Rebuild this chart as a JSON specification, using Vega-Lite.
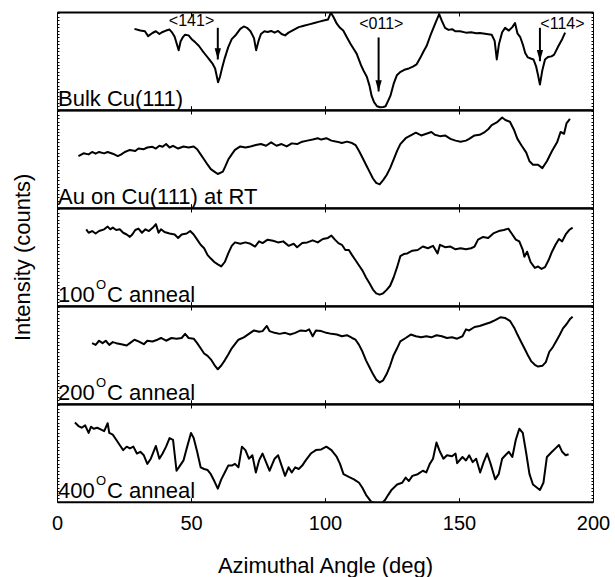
{
  "$schema": "https://vega.github.io/schema/vega-lite/v6.json",
  "autosize": {"type": "pad"},
  "padding": {"left": 11, "top": 11, "right": 0, "bottom": 0},
  "background": "white",
  "bounds": "flush",
  "spacing": 0,
  "config": {
    "view": {"stroke": null},
    "axis": {"domainColor": "black", "tickColor": "black", "labelColor": "black", "titleColor": "black", "labelFont": "Liberation Sans", "titleFont": "Liberation Sans", "titleFontWeight": "normal", "grid": false, "labelFlush": false},
    "text": {"font": "Liberation Sans", "color": "black"}
  },
  "datasets": {
    "bulk": [
      {"angle":28.9,"counts":235},{"angle":31.1,"counts":230},{"angle":32.8,"counts":228},{"angle":34.0,"counts":214},{"angle":35.6,"counts":223},{"angle":36.9,"counts":228},{"angle":38.2,"counts":220},{"angle":39.4,"counts":226},{"angle":40.7,"counts":230},{"angle":42.0,"counts":233},{"angle":43.0,"counts":224},{"angle":43.9,"counts":212},{"angle":45.4,"counts":173},{"angle":46.1,"counts":198},{"angle":46.9,"counts":210},{"angle":47.8,"counts":218},{"angle":49.1,"counts":216},{"angle":50.4,"counts":204},{"angle":51.7,"counts":195},{"angle":52.9,"counts":186},{"angle":54.2,"counts":172},{"angle":55.5,"counts":159},{"angle":56.8,"counts":146},{"angle":58.1,"counts":133},{"angle":59.0,"counts":120},{"angle":60.1,"counts":80},{"angle":60.8,"counts":95},{"angle":61.5,"counts":118},{"angle":62.6,"counts":150},{"angle":63.9,"counts":182},{"angle":65.2,"counts":205},{"angle":66.8,"counts":218},{"angle":68.4,"counts":235},{"angle":69.7,"counts":242},{"angle":70.9,"counts":238},{"angle":72.2,"counts":228},{"angle":73.5,"counts":208},{"angle":74.3,"counts":173},{"angle":75.2,"counts":200},{"angle":76.1,"counts":220},{"angle":77.4,"counts":228},{"angle":78.6,"counts":226},{"angle":79.9,"counts":229},{"angle":81.2,"counts":224},{"angle":82.5,"counts":229},{"angle":83.8,"counts":220},{"angle":85.1,"counts":216},{"angle":86.4,"counts":224},{"angle":88.3,"counts":232},{"angle":90.2,"counts":240},{"angle":92.1,"counts":244},{"angle":94.1,"counts":248},{"angle":96.0,"counts":252},{"angle":97.9,"counts":256},{"angle":99.9,"counts":260},{"angle":101.1,"counts":262},{"angle":102.2,"counts":282},{"angle":103.1,"counts":270},{"angle":104.4,"counts":250},{"angle":105.6,"counts":238},{"angle":106.8,"counts":230},{"angle":108.2,"counts":210},{"angle":109.5,"counts":192},{"angle":110.6,"counts":178},{"angle":111.8,"counts":163},{"angle":113.4,"counts":130},{"angle":114.6,"counts":110},{"angle":115.6,"counts":96},{"angle":116.6,"counts":70},{"angle":117.4,"counts":40},{"angle":118.3,"counts":22},{"angle":119.4,"counts":10},{"angle":120.6,"counts":7},{"angle":121.8,"counts":8},{"angle":122.6,"counts":10},{"angle":123.5,"counts":25},{"angle":124.4,"counts":40},{"angle":125.6,"counts":75},{"angle":126.8,"counts":100},{"angle":128.2,"counts":110},{"angle":129.6,"counts":116},{"angle":131.3,"counts":120},{"angle":132.8,"counts":125},{"angle":134.2,"counts":132},{"angle":135.5,"counts":150},{"angle":136.8,"counts":170},{"angle":137.9,"counts":185},{"angle":139.3,"counts":215},{"angle":141.0,"counts":248},{"angle":142.6,"counts":278},{"angle":143.6,"counts":258},{"angle":144.8,"counts":238},{"angle":146.1,"counts":232},{"angle":147.4,"counts":234},{"angle":148.7,"counts":228},{"angle":150.4,"counts":228},{"angle":152.6,"counts":224},{"angle":154.5,"counts":225},{"angle":156.4,"counts":222},{"angle":157.8,"counts":223},{"angle":160.3,"counts":220},{"angle":162.2,"counts":218},{"angle":163.3,"counts":200},{"angle":164.1,"counts":146},{"angle":164.9,"counts":190},{"angle":166.1,"counts":225},{"angle":167.2,"counts":238},{"angle":168.6,"counts":230},{"angle":169.9,"counts":240},{"angle":170.9,"counts":252},{"angle":171.8,"counts":222},{"angle":172.8,"counts":212},{"angle":173.8,"counts":190},{"angle":174.7,"counts":165},{"angle":175.7,"counts":152},{"angle":177.0,"counts":148},{"angle":177.8,"counts":146},{"angle":178.8,"counts":125},{"angle":179.5,"counts":100},{"angle":180.2,"counts":73},{"angle":181.1,"counts":115},{"angle":182.1,"counts":146},{"angle":183.2,"counts":153},{"angle":184.5,"counts":155},{"angle":185.5,"counts":160},{"angle":187.1,"counts":185},{"angle":188.5,"counts":205},{"angle":189.6,"counts":224}
    ],
    "rt": [
      {"angle":8.0,"counts":150},{"angle":9.9,"counts":158},{"angle":11.8,"counts":155},{"angle":13.1,"counts":162},{"angle":14.4,"counts":157},{"angle":15.7,"counts":162},{"angle":17.6,"counts":158},{"angle":18.9,"counts":162},{"angle":20.8,"counts":157},{"angle":22.7,"counts":150},{"angle":24.0,"counts":155},{"angle":25.3,"counts":162},{"angle":27.2,"counts":168},{"angle":29.2,"counts":165},{"angle":30.4,"counts":172},{"angle":32.4,"counts":170},{"angle":33.7,"counts":175},{"angle":35.6,"counts":177},{"angle":36.9,"counts":172},{"angle":38.2,"counts":180},{"angle":39.4,"counts":177},{"angle":40.7,"counts":185},{"angle":42.0,"counts":175},{"angle":43.3,"counts":180},{"angle":45.2,"counts":172},{"angle":47.2,"counts":178},{"angle":49.1,"counts":175},{"angle":51.0,"counts":178},{"angle":52.3,"counts":170},{"angle":53.6,"counts":155},{"angle":54.9,"counts":140},{"angle":56.2,"counts":125},{"angle":57.4,"counts":112},{"angle":58.7,"counts":105},{"angle":60.0,"counts":98},{"angle":61.9,"counts":105},{"angle":62.8,"counts":120},{"angle":63.9,"counts":140},{"angle":65.2,"counts":155},{"angle":66.4,"counts":168},{"angle":68.4,"counts":178},{"angle":70.3,"counts":175},{"angle":72.2,"counts":178},{"angle":74.2,"counts":182},{"angle":76.1,"counts":185},{"angle":78.0,"counts":180},{"angle":79.9,"counts":190},{"angle":81.9,"counts":180},{"angle":83.8,"counts":185},{"angle":85.7,"counts":178},{"angle":87.6,"counts":187},{"angle":89.6,"counts":185},{"angle":91.5,"counts":192},{"angle":93.4,"counts":195},{"angle":95.4,"counts":198},{"angle":97.3,"counts":202},{"angle":98.6,"counts":198},{"angle":100.5,"counts":202},{"angle":102.4,"counts":195},{"angle":104.4,"counts":192},{"angle":106.3,"counts":188},{"angle":108.2,"counts":192},{"angle":110.1,"counts":188},{"angle":111.4,"counts":182},{"angle":112.7,"counts":165},{"angle":114.0,"counts":145},{"angle":115.3,"counts":125},{"angle":116.6,"counts":105},{"angle":117.9,"counts":85},{"angle":119.1,"counts":72},{"angle":120.4,"counts":68},{"angle":121.7,"counts":80},{"angle":123.0,"counts":95},{"angle":124.3,"counts":115},{"angle":125.6,"counts":140},{"angle":126.9,"counts":165},{"angle":128.1,"counts":185},{"angle":130.1,"counts":202},{"angle":132.0,"counts":210},{"angle":133.9,"counts":218},{"angle":135.9,"counts":210},{"angle":137.8,"counts":215},{"angle":139.7,"counts":220},{"angle":141.0,"counts":212},{"angle":142.9,"counts":208},{"angle":144.8,"counts":210},{"angle":146.8,"counts":200},{"angle":148.7,"counts":195},{"angle":150.6,"counts":192},{"angle":152.6,"counts":195},{"angle":153.8,"counts":200},{"angle":155.8,"counts":210},{"angle":157.7,"counts":212},{"angle":159.6,"counts":220},{"angle":160.9,"counts":228},{"angle":162.2,"counts":240},{"angle":164.1,"counts":248},{"angle":166.1,"counts":262},{"angle":167.3,"counts":255},{"angle":169.0,"counts":250},{"angle":170.6,"counts":225},{"angle":171.8,"counts":200},{"angle":173.4,"counts":180},{"angle":175.1,"counts":160},{"angle":176.3,"counts":135},{"angle":177.6,"counts":125},{"angle":179.5,"counts":125},{"angle":181.1,"counts":115},{"angle":182.8,"counts":135},{"angle":184.7,"counts":165},{"angle":186.6,"counts":190},{"angle":187.9,"counts":220},{"angle":189.2,"counts":215},{"angle":190.1,"counts":245},{"angle":191.4,"counts":258}
    ],
    "a100": [
      {"angle":10.9,"counts":222},{"angle":11.8,"counts":212},{"angle":13.1,"counts":217},{"angle":14.4,"counts":210},{"angle":15.7,"counts":217},{"angle":17.6,"counts":222},{"angle":18.9,"counts":230},{"angle":19.9,"counts":222},{"angle":20.8,"counts":227},{"angle":22.1,"counts":220},{"angle":23.4,"counts":222},{"angle":24.7,"counts":212},{"angle":26.0,"counts":207},{"angle":27.2,"counts":200},{"angle":28.1,"counts":207},{"angle":29.2,"counts":220},{"angle":30.4,"counts":224},{"angle":31.7,"counts":212},{"angle":33.0,"counts":222},{"angle":34.3,"counts":217},{"angle":35.8,"counts":227},{"angle":36.9,"counts":237},{"angle":37.9,"counts":212},{"angle":38.8,"counts":222},{"angle":40.1,"counts":214},{"angle":42.0,"counts":210},{"angle":43.9,"counts":207},{"angle":45.2,"counts":197},{"angle":46.5,"counts":207},{"angle":48.4,"counts":210},{"angle":49.7,"counts":217},{"angle":51.0,"counts":207},{"angle":52.3,"counts":192},{"angle":53.6,"counts":177},{"angle":54.9,"counts":167},{"angle":56.2,"counts":147},{"angle":57.4,"counts":137},{"angle":58.7,"counts":127},{"angle":60.0,"counts":120},{"angle":61.3,"counts":114},{"angle":62.6,"counts":127},{"angle":63.9,"counts":152},{"angle":65.2,"counts":174},{"angle":66.4,"counts":184},{"angle":68.4,"counts":180},{"angle":70.3,"counts":184},{"angle":72.2,"counts":180},{"angle":73.9,"counts":172},{"angle":75.4,"counts":187},{"angle":76.7,"counts":182},{"angle":78.6,"counts":192},{"angle":80.6,"counts":189},{"angle":82.5,"counts":184},{"angle":84.4,"counts":187},{"angle":86.4,"counts":174},{"angle":88.3,"counts":180},{"angle":89.6,"counts":170},{"angle":91.5,"counts":182},{"angle":93.4,"counts":184},{"angle":95.4,"counts":190},{"angle":97.3,"counts":184},{"angle":99.2,"counts":194},{"angle":101.1,"counts":197},{"angle":102.4,"counts":204},{"angle":103.7,"counts":192},{"angle":105.0,"counts":182},{"angle":106.3,"counts":177},{"angle":107.6,"counts":162},{"angle":108.9,"counts":162},{"angle":110.1,"counts":147},{"angle":111.4,"counts":132},{"angle":112.7,"counts":117},{"angle":114.0,"counts":102},{"angle":115.3,"counts":82},{"angle":116.6,"counts":65},{"angle":117.9,"counts":47},{"angle":119.1,"counts":36},{"angle":120.4,"counts":32},{"angle":121.7,"counts":36},{"angle":123.0,"counts":46},{"angle":124.3,"counts":58},{"angle":125.6,"counts":82},{"angle":126.9,"counts":112},{"angle":128.1,"counts":144},{"angle":129.4,"counts":150},{"angle":130.7,"counts":152},{"angle":132.6,"counts":160},{"angle":134.6,"counts":162},{"angle":136.5,"counts":172},{"angle":138.4,"counts":167},{"angle":140.3,"counts":174},{"angle":142.0,"counts":152},{"angle":142.9,"counts":177},{"angle":144.8,"counts":170},{"angle":146.8,"counts":172},{"angle":148.7,"counts":164},{"angle":150.6,"counts":167},{"angle":152.6,"counts":164},{"angle":154.5,"counts":167},{"angle":155.8,"counts":172},{"angle":157.1,"counts":192},{"angle":159.0,"counts":200},{"angle":160.9,"counts":197},{"angle":162.8,"counts":210},{"angle":164.8,"counts":217},{"angle":166.7,"counts":220},{"angle":168.4,"counts":224},{"angle":169.9,"counts":207},{"angle":171.2,"counts":192},{"angle":172.5,"counts":187},{"angle":173.8,"counts":162},{"angle":174.4,"counts":142},{"angle":175.4,"counts":157},{"angle":176.7,"counts":127},{"angle":178.3,"counts":110},{"angle":179.5,"counts":114},{"angle":180.8,"counts":107},{"angle":182.1,"counts":112},{"angle":183.4,"counts":132},{"angle":184.7,"counts":157},{"angle":186.0,"counts":177},{"angle":187.3,"counts":194},{"angle":188.5,"counts":187},{"angle":189.8,"counts":207},{"angle":191.1,"counts":220},{"angle":192.4,"counts":227}
    ],
    "a200": [
      {"angle":13.1,"counts":176},{"angle":14.4,"counts":171},{"angle":15.7,"counts":183},{"angle":17.0,"counts":176},{"angle":18.2,"counts":183},{"angle":19.5,"counts":171},{"angle":20.8,"counts":179},{"angle":22.1,"counts":176},{"angle":24.0,"counts":173},{"angle":26.0,"counts":169},{"angle":27.2,"counts":176},{"angle":28.9,"counts":186},{"angle":30.4,"counts":181},{"angle":32.4,"counts":173},{"angle":33.7,"counts":183},{"angle":35.6,"counts":181},{"angle":37.5,"counts":186},{"angle":38.8,"counts":191},{"angle":40.7,"counts":183},{"angle":42.7,"counts":191},{"angle":44.6,"counts":189},{"angle":46.5,"counts":191},{"angle":47.8,"counts":203},{"angle":49.1,"counts":191},{"angle":51.0,"counts":189},{"angle":52.3,"counts":176},{"angle":53.6,"counts":161},{"angle":54.9,"counts":146},{"angle":56.2,"counts":139},{"angle":57.4,"counts":129},{"angle":58.7,"counts":113},{"angle":60.0,"counts":100},{"angle":61.3,"counts":111},{"angle":62.6,"counts":126},{"angle":63.9,"counts":143},{"angle":65.2,"counts":161},{"angle":66.4,"counts":173},{"angle":67.7,"counts":186},{"angle":69.7,"counts":193},{"angle":71.6,"counts":203},{"angle":73.5,"counts":213},{"angle":75.4,"counts":209},{"angle":76.7,"counts":211},{"angle":78.3,"counts":226},{"angle":79.3,"counts":211},{"angle":81.2,"counts":206},{"angle":83.1,"counts":203},{"angle":85.1,"counts":206},{"angle":87.0,"counts":201},{"angle":88.9,"counts":206},{"angle":90.9,"counts":213},{"angle":92.8,"counts":211},{"angle":94.1,"counts":216},{"angle":95.4,"counts":196},{"angle":96.6,"counts":213},{"angle":98.6,"counts":211},{"angle":100.5,"counts":206},{"angle":102.4,"counts":203},{"angle":104.4,"counts":201},{"angle":106.3,"counts":196},{"angle":108.2,"counts":199},{"angle":110.1,"counts":191},{"angle":111.4,"counts":186},{"angle":112.7,"counts":171},{"angle":114.0,"counts":151},{"angle":115.3,"counts":126},{"angle":116.6,"counts":106},{"angle":117.9,"counts":86},{"angle":119.1,"counts":70},{"angle":120.4,"counts":62},{"angle":121.7,"counts":68},{"angle":123.0,"counts":86},{"angle":124.3,"counts":111},{"angle":125.6,"counts":141},{"angle":126.9,"counts":161},{"angle":128.1,"counts":181},{"angle":130.1,"counts":191},{"angle":132.0,"counts":201},{"angle":133.9,"counts":196},{"angle":135.9,"counts":193},{"angle":137.8,"counts":196},{"angle":139.7,"counts":193},{"angle":141.6,"counts":199},{"angle":143.6,"counts":196},{"angle":145.5,"counts":191},{"angle":147.4,"counts":193},{"angle":149.3,"counts":189},{"angle":151.3,"counts":196},{"angle":152.6,"counts":216},{"angle":153.8,"counts":213},{"angle":155.8,"counts":223},{"angle":157.7,"counts":226},{"angle":159.6,"counts":231},{"angle":161.6,"counts":236},{"angle":163.5,"counts":243},{"angle":165.4,"counts":251},{"angle":167.3,"counts":249},{"angle":169.0,"counts":241},{"angle":170.6,"counts":221},{"angle":171.8,"counts":201},{"angle":173.1,"counts":181},{"angle":174.4,"counts":161},{"angle":175.7,"counts":141},{"angle":177.0,"counts":123},{"angle":178.3,"counts":113},{"angle":179.5,"counts":108},{"angle":181.1,"counts":110},{"angle":182.4,"counts":121},{"angle":183.7,"counts":151},{"angle":184.9,"counts":163},{"angle":186.2,"counts":181},{"angle":187.5,"counts":199},{"angle":188.8,"counts":219},{"angle":190.1,"counts":231},{"angle":191.4,"counts":246},{"angle":192.4,"counts":253}
    ],
    "a400": [
      {"angle":6.7,"counts":230},{"angle":8.0,"counts":220},{"angle":9.2,"counts":215},{"angle":10.5,"counts":222},{"angle":11.8,"counts":200},{"angle":12.7,"counts":218},{"angle":13.7,"counts":212},{"angle":15.0,"counts":215},{"angle":16.3,"counts":210},{"angle":17.6,"counts":205},{"angle":18.9,"counts":228},{"angle":19.5,"counts":200},{"angle":20.8,"counts":195},{"angle":22.1,"counts":180},{"angle":23.4,"counts":165},{"angle":24.7,"counts":150},{"angle":26.0,"counts":160},{"angle":27.2,"counts":155},{"angle":28.5,"counts":160},{"angle":29.8,"counts":140},{"angle":31.1,"counts":145},{"angle":32.4,"counts":135},{"angle":33.7,"counts":110},{"angle":35.0,"counts":125},{"angle":36.9,"counts":162},{"angle":38.2,"counts":125},{"angle":39.4,"counts":140},{"angle":40.7,"counts":160},{"angle":42.0,"counts":185},{"angle":43.3,"counts":180},{"angle":44.6,"counts":90},{"angle":45.9,"counts":105},{"angle":47.2,"counts":120},{"angle":48.4,"counts":155},{"angle":50.0,"counts":200},{"angle":51.0,"counts":185},{"angle":52.3,"counts":145},{"angle":53.6,"counts":100},{"angle":54.9,"counts":95},{"angle":56.2,"counts":92},{"angle":57.4,"counts":80},{"angle":58.7,"counts":60},{"angle":60.0,"counts":38},{"angle":61.3,"counts":65},{"angle":62.6,"counts":85},{"angle":63.9,"counts":105},{"angle":65.2,"counts":105},{"angle":66.4,"counts":110},{"angle":67.7,"counts":100},{"angle":69.0,"counts":160},{"angle":70.3,"counts":150},{"angle":71.6,"counts":125},{"angle":72.9,"counts":135},{"angle":74.2,"counts":85},{"angle":75.4,"counts":120},{"angle":76.7,"counts":140},{"angle":78.0,"counts":115},{"angle":79.3,"counts":90},{"angle":81.2,"counts":125},{"angle":82.5,"counts":135},{"angle":83.8,"counts":105},{"angle":85.1,"counts":75},{"angle":86.4,"counts":100},{"angle":87.6,"counts":85},{"angle":88.9,"counts":100},{"angle":90.2,"counts":95},{"angle":91.5,"counts":105},{"angle":92.8,"counts":120},{"angle":94.7,"counts":140},{"angle":96.6,"counts":150},{"angle":98.6,"counts":152},{"angle":100.5,"counts":160},{"angle":102.4,"counts":150},{"angle":104.4,"counts":130},{"angle":105.6,"counts":110},{"angle":106.9,"counts":80},{"angle":108.9,"counts":72},{"angle":110.8,"counts":65},{"angle":112.7,"counts":55},{"angle":114.0,"counts":40},{"angle":115.3,"counts":20},{"angle":117.2,"counts":0},{"angle":119.1,"counts":-5},{"angle":121.1,"counts":-5},{"angle":122.4,"counts":5},{"angle":123.6,"counts":20},{"angle":124.9,"counts":35},{"angle":126.9,"counts":50},{"angle":128.8,"counts":55},{"angle":130.1,"counts":70},{"angle":131.3,"counts":60},{"angle":132.6,"counts":75},{"angle":134.6,"counts":80},{"angle":136.5,"counts":90},{"angle":137.8,"counts":85},{"angle":139.1,"counts":110},{"angle":140.3,"counts":125},{"angle":141.6,"counts":172},{"angle":142.9,"counts":145},{"angle":144.2,"counts":125},{"angle":145.5,"counts":135},{"angle":147.4,"counts":132},{"angle":148.7,"counts":140},{"angle":149.3,"counts":112},{"angle":151.3,"counts":130},{"angle":152.6,"counts":120},{"angle":153.8,"counts":135},{"angle":155.1,"counts":115},{"angle":156.4,"counts":125},{"angle":157.9,"counts":85},{"angle":159.2,"counts":115},{"angle":160.5,"counts":140},{"angle":161.8,"counts":110},{"angle":163.5,"counts":65},{"angle":164.8,"counts":80},{"angle":166.1,"counts":125},{"angle":167.3,"counts":135},{"angle":168.6,"counts":145},{"angle":169.9,"counts":130},{"angle":171.2,"counts":180},{"angle":172.5,"counts":212},{"angle":173.8,"counts":200},{"angle":175.1,"counts":140},{"angle":176.3,"counts":80},{"angle":177.6,"counts":50},{"angle":178.9,"counts":42},{"angle":180.2,"counts":34},{"angle":181.5,"counts":55},{"angle":182.8,"counts":130},{"angle":184.7,"counts":145},{"angle":186.0,"counts":155},{"angle":187.3,"counts":165},{"angle":188.5,"counts":145},{"angle":189.8,"counts":135},{"angle":190.9,"counts":138}
    ],
    "directions": [
      {"dir":"<141>","angle":60,"from":238,"to":146,"labelAngle":50.2,"labelCounts":257},
      {"dir":"<011>","angle":120,"from":210,"to":53,"labelAngle":121,"labelCounts":248},
      {"dir":"<114>","angle":180.2,"from":238,"to":141,"labelAngle":188.6,"labelCounts":248}
    ]
  },
  "vconcat": [
    {
      "width": 536, "height": 97.7,
      "layer": [
        {
          "data": {"name": "bulk"},
          "mark": {"type": "line", "color": "black", "strokeWidth": 2, "strokeJoin": "round", "clip": true},
          "encoding": {
            "x": {"field": "angle", "type": "quantitative", "scale": {"domain": [0, 200], "nice": false, "zero": false},
                  "axis": {"orient": "bottom", "values": [0, 50, 100, 150, 200], "tickSize": -4, "labels": false, "title": null, "domainWidth": 2}},
            "y": {"field": "counts", "type": "quantitative", "scale": {"domain": [0, 284], "nice": false, "zero": false},
                  "axis": {"orient": "left", "tickCount": 30, "tickSize": -2, "labels": false, "title": null, "domainWidth": 1}}
          }
        },
        {
          "data": {"values": [{"label": "Bulk Cu(111)"}]},
          "mark": {"type": "text", "align": "left", "baseline": "alphabetic", "fontSize": 22, "dx": 1},
          "encoding": {
            "x": {"datum": 0, "type": "quantitative", "axis": {"orient": "top", "values": [0, 50, 100, 150, 200], "tickSize": -4, "labels": false, "title": null, "domainWidth": 2}},
            "y": {"datum": 12, "type": "quantitative", "axis": {"orient": "right", "tickCount": 30, "tickSize": -2, "labels": false, "title": null, "domainWidth": 1}},
            "text": {"field": "label"}
          }
        },
        {
          "data": {"name": "directions"},
          "mark": {"type": "rule", "color": "black", "strokeWidth": 2},
          "encoding": {
            "x": {"field": "angle", "type": "quantitative", "axis": null},
            "y": {"field": "from", "type": "quantitative", "axis": null},
            "y2": {"field": "to"}
          }
        },
        {
          "data": {"name": "directions"},
          "mark": {"type": "point", "shape": "M-0.9,-3.2L0.9,-3.2L0,0Z", "size": 49, "filled": true, "color": "black", "opacity": 1},
          "encoding": {
            "x": {"field": "angle", "type": "quantitative", "axis": null},
            "y": {"field": "to", "type": "quantitative", "axis": null}
          }
        },
        {
          "data": {"name": "directions"},
          "mark": {"type": "text", "align": "center", "baseline": "middle", "fontSize": 16},
          "encoding": {
            "x": {"field": "labelAngle", "type": "quantitative", "axis": null},
            "y": {"field": "labelCounts", "type": "quantitative", "axis": null},
            "text": {"field": "dir"}
          }
        }
      ],
      "resolve": {"axis": {"x": "independent", "y": "independent"}}
    },
    {
      "width": 536, "height": 97.7,
      "layer": [
        {
          "data": {"name": "rt"},
          "mark": {"type": "line", "color": "black", "strokeWidth": 2, "strokeJoin": "round", "clip": true},
          "encoding": {
            "x": {"field": "angle", "type": "quantitative", "scale": {"domain": [0, 200], "nice": false, "zero": false},
                  "axis": {"orient": "bottom", "values": [0, 50, 100, 150, 200], "tickSize": -4, "labels": false, "title": null, "domainWidth": 2}},
            "y": {"field": "counts", "type": "quantitative", "scale": {"domain": [0, 284], "nice": false, "zero": false},
                  "axis": {"orient": "left", "tickCount": 30, "tickSize": -2, "labels": false, "title": null, "domainWidth": 1}}
          }
        },
        {
          "data": {"values": [{"label": "Au on Cu(111) at RT"}]},
          "mark": {"type": "text", "align": "left", "baseline": "alphabetic", "fontSize": 22, "dx": 1},
          "encoding": {
            "x": {"datum": 0, "type": "quantitative", "axis": {"orient": "top", "values": [0, 50, 100, 150, 200], "tickSize": -4, "labels": false, "title": null, "domainWidth": 2}},
            "y": {"datum": 12, "type": "quantitative", "axis": {"orient": "right", "tickCount": 30, "tickSize": -2, "labels": false, "title": null, "domainWidth": 1}},
            "text": {"field": "label"}
          }
        }
      ],
      "resolve": {"axis": {"x": "independent", "y": "independent"}}
    },
    {
      "width": 536, "height": 97.7,
      "layer": [
        {
          "data": {"name": "a100"},
          "mark": {"type": "line", "color": "black", "strokeWidth": 2, "strokeJoin": "round", "clip": true},
          "encoding": {
            "x": {"field": "angle", "type": "quantitative", "scale": {"domain": [0, 200], "nice": false, "zero": false},
                  "axis": {"orient": "bottom", "values": [0, 50, 100, 150, 200], "tickSize": -4, "labels": false, "title": null, "domainWidth": 2}},
            "y": {"field": "counts", "type": "quantitative", "scale": {"domain": [0, 284], "nice": false, "zero": false},
                  "axis": {"orient": "left", "tickCount": 30, "tickSize": -2, "labels": false, "title": "Intensity (counts)", "titleFontSize": 22, "titlePadding": 22, "domainWidth": 1}}
          }
        },
        {
          "data": {"values": [{"label": "100"}]},
          "mark": {"type": "text", "align": "left", "baseline": "alphabetic", "fontSize": 22, "dx": 1},
          "encoding": {
            "x": {"datum": 0, "type": "quantitative", "axis": {"orient": "top", "values": [0, 50, 100, 150, 200], "tickSize": -4, "labels": false, "title": null, "domainWidth": 2}},
            "y": {"datum": 12, "type": "quantitative", "axis": {"orient": "right", "tickCount": 30, "tickSize": -2, "labels": false, "title": null, "domainWidth": 1}},
            "text": {"field": "label"}
          }
        },
        {
          "data": {"values": [{"label": "O"}]},
          "mark": {"type": "text", "align": "left", "baseline": "alphabetic", "fontSize": 13, "dx": 39, "dy": -13},
          "encoding": {
            "x": {"datum": 0, "type": "quantitative", "axis": null},
            "y": {"datum": 12, "type": "quantitative", "axis": null},
            "text": {"field": "label"}
          }
        },
        {
          "data": {"values": [{"label": "C anneal"}]},
          "mark": {"type": "text", "align": "left", "baseline": "alphabetic", "fontSize": 22, "dx": 50},
          "encoding": {
            "x": {"datum": 0, "type": "quantitative", "axis": null},
            "y": {"datum": 12, "type": "quantitative", "axis": null},
            "text": {"field": "label"}
          }
        }
      ],
      "resolve": {"axis": {"x": "independent", "y": "independent"}}
    },
    {
      "width": 536, "height": 97.7,
      "layer": [
        {
          "data": {"name": "a200"},
          "mark": {"type": "line", "color": "black", "strokeWidth": 2, "strokeJoin": "round", "clip": true},
          "encoding": {
            "x": {"field": "angle", "type": "quantitative", "scale": {"domain": [0, 200], "nice": false, "zero": false},
                  "axis": {"orient": "bottom", "values": [0, 50, 100, 150, 200], "tickSize": -4, "labels": false, "title": null, "domainWidth": 2}},
            "y": {"field": "counts", "type": "quantitative", "scale": {"domain": [0, 284], "nice": false, "zero": false},
                  "axis": {"orient": "left", "tickCount": 30, "tickSize": -2, "labels": false, "title": null, "domainWidth": 1}}
          }
        },
        {
          "data": {"values": [{"label": "200"}]},
          "mark": {"type": "text", "align": "left", "baseline": "alphabetic", "fontSize": 22, "dx": 1},
          "encoding": {
            "x": {"datum": 0, "type": "quantitative", "axis": {"orient": "top", "values": [0, 50, 100, 150, 200], "tickSize": -4, "labels": false, "title": null, "domainWidth": 2}},
            "y": {"datum": 12, "type": "quantitative", "axis": {"orient": "right", "tickCount": 30, "tickSize": -2, "labels": false, "title": null, "domainWidth": 1}},
            "text": {"field": "label"}
          }
        },
        {
          "data": {"values": [{"label": "O"}]},
          "mark": {"type": "text", "align": "left", "baseline": "alphabetic", "fontSize": 13, "dx": 39, "dy": -13},
          "encoding": {
            "x": {"datum": 0, "type": "quantitative", "axis": null},
            "y": {"datum": 12, "type": "quantitative", "axis": null},
            "text": {"field": "label"}
          }
        },
        {
          "data": {"values": [{"label": "C anneal"}]},
          "mark": {"type": "text", "align": "left", "baseline": "alphabetic", "fontSize": 22, "dx": 50},
          "encoding": {
            "x": {"datum": 0, "type": "quantitative", "axis": null},
            "y": {"datum": 12, "type": "quantitative", "axis": null},
            "text": {"field": "label"}
          }
        }
      ],
      "resolve": {"axis": {"x": "independent", "y": "independent"}}
    },
    {
      "width": 536, "height": 97.7,
      "layer": [
        {
          "data": {"name": "a400"},
          "mark": {"type": "line", "color": "black", "strokeWidth": 2, "strokeJoin": "round", "clip": true},
          "encoding": {
            "x": {"field": "angle", "type": "quantitative", "scale": {"domain": [0, 200], "nice": false, "zero": false},
                  "axis": {"orient": "bottom", "values": [0, 50, 100, 150, 200], "tickSize": -4, "labels": true, "labelFontSize": 20, "labelPadding": 16, "title": "Azimuthal Angle (deg)", "titleFontSize": 22, "titlePadding": 22, "domainWidth": 2}},
            "y": {"field": "counts", "type": "quantitative", "scale": {"domain": [0, 284], "nice": false, "zero": false},
                  "axis": {"orient": "left", "tickCount": 30, "tickSize": -2, "labels": false, "title": null, "domainWidth": 1}}
          }
        },
        {
          "data": {"values": [{"label": "400"}]},
          "mark": {"type": "text", "align": "left", "baseline": "alphabetic", "fontSize": 22, "dx": 1},
          "encoding": {
            "x": {"datum": 0, "type": "quantitative", "axis": {"orient": "top", "values": [0, 50, 100, 150, 200], "tickSize": -4, "labels": false, "title": null, "domainWidth": 2}},
            "y": {"datum": 12, "type": "quantitative", "axis": {"orient": "right", "tickCount": 30, "tickSize": -2, "labels": false, "title": null, "domainWidth": 1}},
            "text": {"field": "label"}
          }
        },
        {
          "data": {"values": [{"label": "O"}]},
          "mark": {"type": "text", "align": "left", "baseline": "alphabetic", "fontSize": 13, "dx": 39, "dy": -13},
          "encoding": {
            "x": {"datum": 0, "type": "quantitative", "axis": null},
            "y": {"datum": 12, "type": "quantitative", "axis": null},
            "text": {"field": "label"}
          }
        },
        {
          "data": {"values": [{"label": "C anneal"}]},
          "mark": {"type": "text", "align": "left", "baseline": "alphabetic", "fontSize": 22, "dx": 50},
          "encoding": {
            "x": {"datum": 0, "type": "quantitative", "axis": null},
            "y": {"datum": 12, "type": "quantitative", "axis": null},
            "text": {"field": "label"}
          }
        }
      ],
      "resolve": {"axis": {"x": "independent", "y": "independent"}}
    }
  ]
}
